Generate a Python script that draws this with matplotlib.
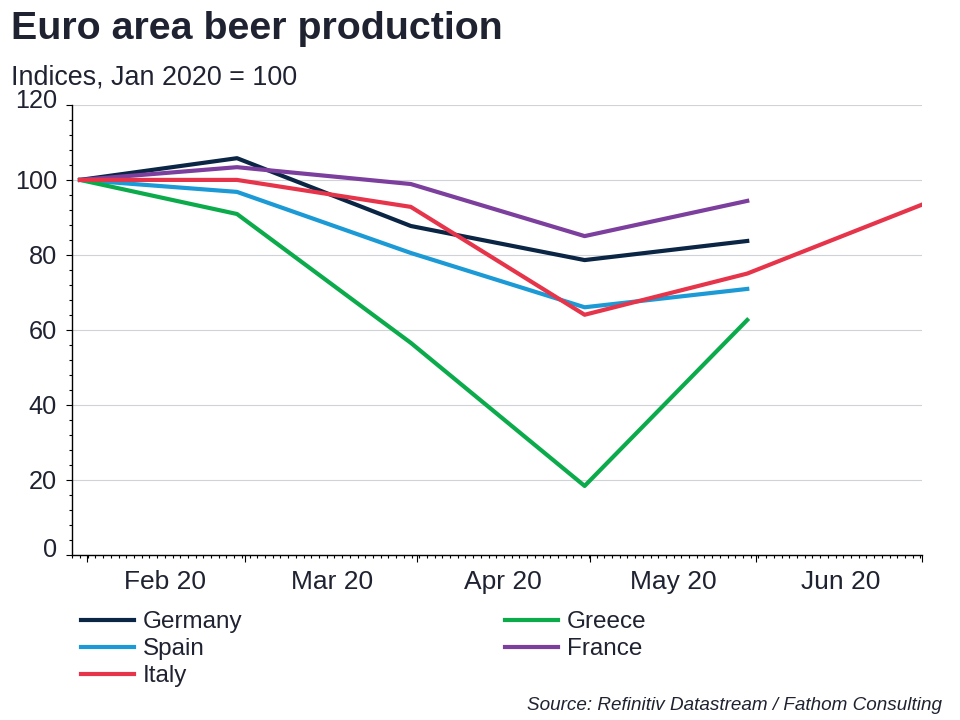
import matplotlib
matplotlib.use("Agg")
import matplotlib.pyplot as plt
from matplotlib.ticker import MultipleLocator
from matplotlib.transforms import ScaledTranslation

plt.rcParams["font.family"] = ["Liberation Sans", "DejaVu Sans"]

# days since 31 Jan 2020 (last working day of each month)
days = [0, 28, 59, 90, 119, 150]
germany = [100, 105.8, 87.7, 78.6, 83.7]
spain = [100, 96.8, 80.5, 66.0, 70.9]
italy = [100, 100.0, 92.8, 64.0, 75.0, 93.3]
greece = [100, 90.9, 56.5, 18.3, 62.6]
france = [100, 103.4, 98.9, 85.0, 94.4]

month_ticks = [1.25, 29.4, 60.1, 90.9, 120.5, 150.1]
month_centres = [15.2, 45, 75.5, 105.9, 135.6]
month_labels = ["Feb 20", "Mar 20", "Apr 20", "May 20", "Jun 20"]
y_ticks = [0, 20, 40, 60, 80, 100, 120]

ink = "#1f2230"
W, H = 960, 720
left, right, top, bottom = 71.5, 922, 105, 554.5

fig = plt.figure(figsize=(9.6, 7.2), dpi=100)
ax = fig.add_axes([left / W, 1 - bottom / H, (right - left) / W, (bottom - top) / H])

ax.plot(days[:5], germany, color="#0b2545", lw=3, label="Germany", zorder=3)
ax.plot(days[:5], spain, color="#1b9ad6", lw=3, label="Spain", zorder=3)
ax.plot(days[:5], greece, color="#0bab4c", lw=3, label="Greece", zorder=3)
ax.plot(days[:5], france, color="#7d3f9d", lw=3, label="France", zorder=3)
ax.plot(days, italy, color="#e6354a", lw=3, label="Italy", zorder=4)

ax.set_xlim((left - 80) / 5.607, (right - 80) / 5.607)
ax.set_ylim(0, 120)

ax.spines["top"].set_visible(False)
ax.spines["right"].set_visible(False)
ax.spines["left"].set_linewidth(1)
ax.spines["bottom"].set_linewidth(1)

ax.set_yticks(y_ticks)
ax.yaxis.set_minor_locator(MultipleLocator(4))
ax.tick_params(axis="y", which="major", length=4.5, width=0.8, labelsize=18.2, labelcolor=ink, pad=6)
ax.tick_params(axis="y", which="minor", length=2.5, width=0.8)
ax.grid(axis="y", which="major", color="#cfd2d6", lw=0.8)
ax.set_axisbelow(True)

# the end labels sit a little above their ticks in the original
for lab, val in zip(ax.get_yticklabels(), y_ticks):
    if val in (0, 120):
        lab.set_transform(lab.get_transform() + ScaledTranslation(0, 7 / 100, fig.dpi_scale_trans))

ax.set_xticks(month_ticks)
ax.set_xticklabels([])
ax.xaxis.set_minor_locator(MultipleLocator(1.375))
ax.tick_params(axis="x", which="major", length=5, width=0.8)
ax.tick_params(axis="x", which="minor", length=2.5, width=0.8)

for c, lab in zip(month_centres, month_labels):
    ax.annotate(lab, (c, 0), xytext=(0, -11), textcoords="offset points",
                ha="center", va="top", fontsize=19, color=ink)

fig.text(11 / W, 1 - 29 / H, "Euro area beer production", fontsize=28.4, fontweight="bold",
         color=ink, ha="left", va="center")
fig.text(11 / W, 1 - 77 / H, "Indices, Jan 2020 = 100", fontsize=19.4, color=ink,
         ha="left", va="center")
fig.text(942 / W, 1 - 705 / H, "Source: Refinitiv Datastream / Fathom Consulting", fontsize=13.6,
         style="italic", color=ink, ha="right", va="center")

handles, labels = ax.get_legend_handles_labels()
order = [0, 1, 4, 2, 3]
fig.legend([handles[i] for i in order], [labels[i] for i in order], ncols=2, frameon=False,
           loc="upper left", bbox_to_anchor=(81 / W, 1 - 611 / H), borderaxespad=0, borderpad=0,
           fontsize=17.5, labelcolor=ink, handlelength=2.18, handletextpad=0.37,
           columnspacing=10.8, labelspacing=0.21)

fig.savefig("out.png", dpi=100)
